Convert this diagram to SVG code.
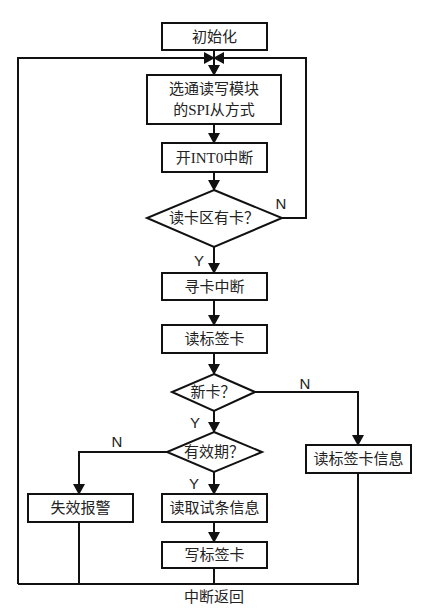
<svg xmlns="http://www.w3.org/2000/svg" width="427" height="608" viewBox="0 0 427 608">
<defs>
<marker id="ah" markerUnits="userSpaceOnUse" markerWidth="11" markerHeight="12" refX="10" refY="6" orient="auto" viewBox="0 0 11 12">
<path d="M0,0 L11,6 L0,12 Z" fill="#111"/>
</marker>
<style>
.box{fill:#fff;stroke:#111;stroke-width:2}
.t{font-family:"Liberation Serif","Noto Sans CJK SC",serif;font-size:15px;fill:#222;text-anchor:middle;dominant-baseline:central}
.l{font-family:"Liberation Sans",Arial,sans-serif;font-size:15px;fill:#222;text-anchor:middle;dominant-baseline:central}
.c{fill:none;stroke:#111;stroke-width:2}
</style>
</defs>
<rect width="427" height="608" fill="#fff"/>
<g id="connectors">
<line class="c" x1="214" y1="50" x2="214" y2="75" marker-end="url(#ah)"/>
<polyline class="c" points="18,584 18,58 214,58" marker-end="url(#ah)"/>
<polyline class="c" points="282,218 306,218 306,58 214,58" marker-end="url(#ah)"/>
<line class="c" x1="214" y1="124" x2="214" y2="143" marker-end="url(#ah)"/>
<line class="c" x1="214" y1="172" x2="214" y2="190" marker-end="url(#ah)"/>
<line class="c" x1="214" y1="247" x2="214" y2="273" marker-end="url(#ah)"/>
<line class="c" x1="214" y1="300" x2="214" y2="325" marker-end="url(#ah)"/>
<line class="c" x1="214" y1="353" x2="214" y2="374" marker-end="url(#ah)"/>
<polyline class="c" points="255,392 358,392 358,445" marker-end="url(#ah)"/>
<line class="c" x1="214" y1="411" x2="214" y2="432" marker-end="url(#ah)"/>
<polyline class="c" points="167,452 79,452 79,494" marker-end="url(#ah)"/>
<line class="c" x1="214" y1="472" x2="214" y2="494" marker-end="url(#ah)"/>
<line class="c" x1="214" y1="522" x2="214" y2="542" marker-end="url(#ah)"/>
<polyline class="c" points="18,584 358,584 358,473"/>
<line class="c" x1="79" y1="522" x2="79" y2="584"/>
<line class="c" x1="214" y1="568" x2="214" y2="584"/>
<text class="l" x="281" y="203">N</text>
<text class="l" x="199" y="260">Y</text>
<text class="l" x="305" y="383">N</text>
<text class="l" x="195" y="422">Y</text>
<text class="l" x="117" y="441">N</text>
<text class="l" x="194" y="483">Y</text>
<text class="t" x="214" y="597">中断返回</text>
</g>
<g id="init"><rect class="box" x="162" y="23" width="105" height="27"/><text class="t" x="214.5" y="37">初始化</text></g>
<g id="spi"><rect class="box" x="147" y="75" width="134" height="49"/><text class="t" x="214" y="89">选通读写模块</text><text class="t" x="214" y="110">的SPI从方式</text></g>
<g id="int0"><rect class="box" x="162" y="143" width="105" height="29"/><text class="t" x="214.5" y="157.5">开INT0中断</text></g>
<g id="hascard"><polygon class="box" points="214,190 282,218 214,247 147,218"/><text class="t" x="214" y="218">读卡区有卡？</text></g>
<g id="seek"><rect class="box" x="162" y="273" width="105" height="27"/><text class="t" x="214.5" y="287">寻卡中断</text></g>
<g id="readtag"><rect class="box" x="162" y="325" width="105" height="28"/><text class="t" x="214.5" y="339">读标签卡</text></g>
<g id="newcard"><polygon class="box" points="214,374 255,392 214,411 172,392"/><text class="t" x="213" y="392">新卡？</text></g>
<g id="valid"><polygon class="box" points="214,432 262,452 214,472 167,452"/><text class="t" x="214" y="452">有效期？</text></g>
<g id="readinfo"><rect class="box" x="306" y="445" width="105" height="28"/><text class="t" x="358.5" y="459">读标签卡信息</text></g>
<g id="alarm"><rect class="box" x="28" y="494" width="105" height="28"/><text class="t" x="80.5" y="508">失效报警</text></g>
<g id="readstrip"><rect class="box" x="162" y="494" width="105" height="28"/><text class="t" x="214.5" y="508">读取试条信息</text></g>
<g id="writetag"><rect class="box" x="162" y="542" width="105" height="26"/><text class="t" x="214.5" y="555">写标签卡</text></g>
</svg>
